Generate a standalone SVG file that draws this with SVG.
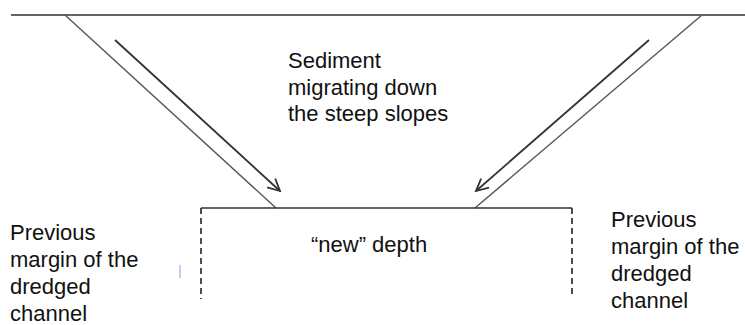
<svg xmlns="http://www.w3.org/2000/svg" width="745" height="325" viewBox="0 0 745 325">
<style>
.t{font-family:"Liberation Sans",Arial,sans-serif;font-size:22px;fill:#111}
.ln{stroke:#333;stroke-width:1.6;fill:none}
.sl{stroke:#555;stroke-width:1.4;fill:none}
.ar{stroke:#333;stroke-width:1.8;fill:none}
.dash{stroke:#222;stroke-width:1.6;stroke-dasharray:6,4;fill:none}
</style>
<defs>
<marker id="open" markerWidth="16" markerHeight="16" refX="14" refY="8" orient="auto" markerUnits="userSpaceOnUse">
<path d="M2,2 L14,8 L2,14" fill="none" stroke="#333" stroke-width="1.8"/>
</marker>
</defs>
<rect width="745" height="325" fill="#fff"/>
<g id="connectors">
<line class="ln" x1="11" y1="15" x2="745" y2="15"/>
<line class="sl" x1="65" y1="15" x2="276" y2="208"/>
<line class="sl" x1="702" y1="15" x2="475" y2="208"/>
<line class="ar" x1="115" y1="40" x2="280" y2="191" marker-end="url(#open)"/>
<line class="ar" x1="649" y1="40" x2="476" y2="191" marker-end="url(#open)"/>
<path class="ln" d="M201,208 H572"/>
<line class="dash" x1="201" y1="208" x2="201" y2="299"/>
<line class="dash" x1="572" y1="208" x2="572" y2="298"/>
<line x1="180" y1="265" x2="180" y2="278" stroke="#8ab4e8" stroke-width="1.2"/>
</g>
<g id="sediment-label">
<text class="t" x="288" y="68">Sediment</text>
<text class="t" x="288" y="95">migrating down</text>
<text class="t" x="288" y="121">the steep slopes</text>
</g>
<g id="left-margin-label">
<text class="t" x="10" y="240">Previous</text>
<text class="t" x="10" y="267">margin of the</text>
<text class="t" x="10" y="294">dredged</text>
<text class="t" x="10" y="321">channel</text>
</g>
<g id="right-margin-label">
<text class="t" x="611" y="227">Previous</text>
<text class="t" x="611" y="254">margin of the</text>
<text class="t" x="611" y="281">dredged</text>
<text class="t" x="611" y="308">channel</text>
</g>
<g id="new-depth-label">
<text class="t" x="311" y="252">“new” depth</text>
</g>
</svg>
